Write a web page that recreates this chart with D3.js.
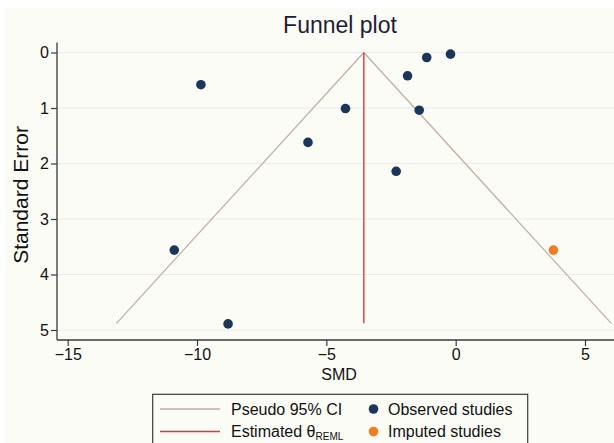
<!DOCTYPE html>
<html>
<head>
<meta charset="utf-8">
<script src="https://cdn.jsdelivr.net/npm/d3@7"></script>
<style>
  html, body { margin: 0; padding: 0; background: #ffffff; }
  svg { display: block; font-family: "Liberation Sans", Arial, Helvetica, sans-serif; }
</style>
</head>
<body>
<svg id="chart" width="614" height="443"></svg>
<script>
// Observed studies: effect size (SMD) and its standard error
const observedSMD = [-9.85, -5.71, -1.12, -0.20, -1.86, -4.26, -1.41, -2.30, -10.88, -8.80];
const observedSE  = [0.58, 1.62, 0.09, 0.03, 0.42, 1.01, 1.04, 2.14, 3.56, 4.89];
// Trim-and-fill imputed study
const imputedSMD = [3.78];
const imputedSE  = [3.56];
// Pooled REML estimate and the largest standard error the funnel reaches
const thetaREML = -3.55;
const maxSE = 4.88;
const xTicks = [-15, -10, -5, 0, 5];
const yTicks = [0, 1, 2, 3, 4, 5];

const svg = d3.select("#chart");
const W = 614, H = 443;

// Plot region background
svg.append("rect").attr("x", 5).attr("y", 8).attr("width", W - 5).attr("height", H - 8)
  .attr("fill", "#fcfcf6");

const x = d3.scaleLinear().domain([-15, 5]).range([67.7, 585]);
const y = d3.scaleLinear().domain([0, 5]).range([52.5, 330]);

const plotLeft = 57, plotBottom = 340;
const plotRight = W;
const plotTop = y(-0.18);

// Horizontal gridlines
svg.append("g").selectAll("line").data(yTicks).join("line")
  .attr("x1", plotLeft).attr("x2", plotRight)
  .attr("y1", d => y(d)).attr("y2", d => y(d))
  .attr("stroke", "#eaeaf0").attr("stroke-width", 1);

// Funnel: pseudo 95% confidence limits
const z = 1.96;
const funnel = [[thetaREML - z * maxSE, maxSE], [thetaREML, 0], [thetaREML + z * maxSE, maxSE]];
svg.append("path")
  .attr("d", d3.line().x(d => x(d[0])).y(d => y(d[1]))(funnel))
  .attr("fill", "none").attr("stroke", "#bdaea6").attr("stroke-width", 1.2);

// Estimated theta line
svg.append("line")
  .attr("x1", x(thetaREML)).attr("x2", x(thetaREML))
  .attr("y1", y(0)).attr("y2", y(maxSE))
  .attr("stroke", "#e2372a").attr("stroke-width", 1.4);

// Axes
const xAxis = d3.axisBottom(x).tickValues(xTicks).tickSize(6).tickPadding(3)
  .tickFormat(d => d < 0 ? "\u2212" + Math.abs(d) : String(d));
const gx = svg.append("g").attr("transform", `translate(0,${plotBottom})`).call(xAxis);
gx.select(".domain").remove();
gx.append("line").attr("x1", plotLeft).attr("x2", plotRight).attr("y1", 0).attr("y2", 0)
  .attr("stroke", "#3a3a3a").attr("stroke-width", 1.3);
gx.selectAll(".tick line").attr("stroke", "#3a3a3a").attr("stroke-width", 1.2);
gx.selectAll(".tick text").attr("fill", "#111").style("font-size", "16px")
  .attr("font-family", "Liberation Sans, Arial, sans-serif");

const yAxis = d3.axisLeft(y).tickValues(yTicks).tickSize(6).tickPadding(2)
  .tickFormat(d3.format("d"));
const gy = svg.append("g").attr("transform", `translate(${plotLeft},0)`).call(yAxis);
gy.select(".domain").remove();
gy.append("line").attr("x1", 0).attr("x2", 0).attr("y1", plotTop).attr("y2", plotBottom)
  .attr("stroke", "#3a3a3a").attr("stroke-width", 1.3);
gy.selectAll(".tick line").attr("stroke", "#3a3a3a").attr("stroke-width", 1.2);
gy.selectAll(".tick text").attr("fill", "#111").style("font-size", "16px")
  .attr("font-family", "Liberation Sans, Arial, sans-serif");

// Study points
svg.append("g").selectAll("circle").data(observedSMD.map((v, i) => [v, observedSE[i]])).join("circle")
  .attr("cx", d => x(d[0])).attr("cy", d => y(d[1])).attr("r", 4.8)
  .attr("fill", "#1c3659");
svg.append("g").selectAll("circle").data(imputedSMD.map((v, i) => [v, imputedSE[i]])).join("circle")
  .attr("cx", d => x(d[0])).attr("cy", d => y(d[1])).attr("r", 4.8)
  .attr("fill", "#f47b20");

// Titles
svg.append("text").attr("x", 340).attr("y", 33).attr("text-anchor", "middle")
  .attr("fill", "#221c33").style("font-size", "23px").text("Funnel plot");
svg.append("text").attr("x", 339).attr("y", 380).attr("text-anchor", "middle")
  .attr("fill", "#111").style("font-size", "16px").text("SMD");
svg.append("text").attr("transform", "translate(28,195) rotate(-90)").attr("text-anchor", "middle")
  .attr("fill", "#111").style("font-size", "21px").text("Standard Error");

// Legend
const lg = svg.append("g");
lg.append("rect").attr("x", 152.7).attr("y", 394.3).attr("width", 375).attr("height", 60)
  .attr("fill", "#fcfcf6").attr("stroke", "#3a3a3a").attr("stroke-width", 1.2);
const row1 = 409, row2 = 431.5;
lg.append("line").attr("x1", 160).attr("x2", 220).attr("y1", row1).attr("y2", row1)
  .attr("stroke", "#bdaea6").attr("stroke-width", 1.4);
lg.append("line").attr("x1", 160).attr("x2", 220).attr("y1", row2).attr("y2", row2)
  .attr("stroke", "#e2372a").attr("stroke-width", 1.6);
lg.append("text").attr("x", 231).attr("y", row1 + 5.5).attr("fill", "#111")
  .style("font-size", "16px").text("Pseudo 95% CI");
const est = lg.append("text").attr("x", 231).attr("y", row2 + 5.5).attr("fill", "#111")
  .style("font-size", "16px");
est.append("tspan").text("Estimated \u03b8");
est.append("tspan").attr("dy", 3).style("font-size", "10px").text("REML");
lg.append("circle").attr("cx", 373.5).attr("cy", row1).attr("r", 4.8).attr("fill", "#1c3659");
lg.append("circle").attr("cx", 373.5).attr("cy", row2).attr("r", 4.8).attr("fill", "#f47b20");
lg.append("text").attr("x", 388).attr("y", row1 + 5.5).attr("fill", "#111")
  .style("font-size", "16px").text("Observed studies");
lg.append("text").attr("x", 388).attr("y", row2 + 5.5).attr("fill", "#111")
  .style("font-size", "16px").text("Imputed studies");
</script>
</body>
</html>
